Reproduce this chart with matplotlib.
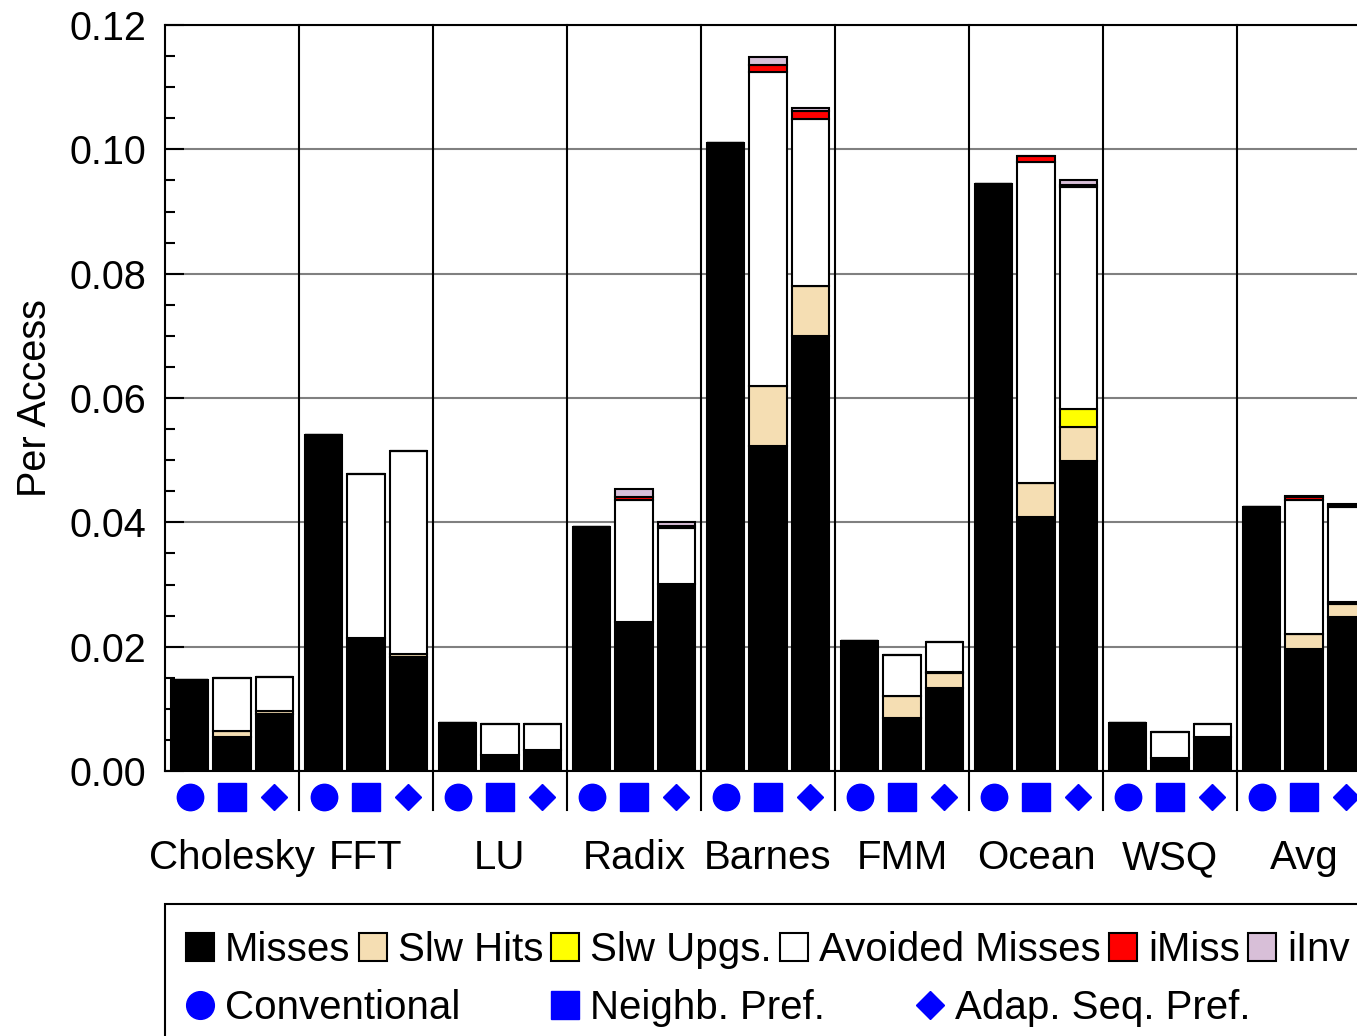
import numpy as np
import matplotlib.pyplot as plt
from matplotlib.patches import Patch, Rectangle
from matplotlib.lines import Line2D
from matplotlib.ticker import MultipleLocator, FormatStrFormatter

plt.rcParams['font.family'] = ['Liberation Sans', 'DejaVu Sans']
plt.rcParams['font.size'] = 28.5

apps = ["Cholesky", "FFT", "LU", "Radix", "Barnes", "FMM", "Ocean", "WSQ", "Avg"]
configs = ["Conventional", "Neighb. Pref.", "Adap. Seq. Pref."]
config_markers = ["o", "s", "D"]
config_msize = [19, 19.5, 13.5]

# one triple per app: (Conventional, Neighb. Pref., Adap. Seq. Pref.)
misses = [(0.0146, 0.0055, 0.0092), (0.0541, 0.0214, 0.0183), (0.0077, 0.0026, 0.0033),
          (0.0393, 0.0240, 0.0301), (0.1010, 0.0523, 0.0700), (0.0209, 0.0086, 0.0133),
          (0.0945, 0.0409, 0.0498), (0.0078, 0.0021, 0.0055), (0.0424, 0.0196, 0.0248)]
slw_hits = [(0, 0.0009, 0.0004), (0, 0, 0.0005), (0, 0, 0),
            (0, 0, 0), (0, 0.0096, 0.0080), (0, 0.0034, 0.0024),
            (0, 0.0054, 0.0055), (0, 0, 0), (0, 0.0024, 0.0021)]
slw_upgs = [(0, 0, 0), (0, 0, 0), (0, 0, 0),
            (0, 0, 0), (0, 0, 0), (0, 0, 0.0003),
            (0, 0, 0.0030), (0, 0, 0), (0, 0, 0.0003)]
avoided = [(0, 0.0086, 0.0056), (0, 0.0264, 0.0327), (0, 0.0050, 0.0043),
           (0, 0.0196, 0.0090), (0, 0.0505, 0.0269), (0, 0.0066, 0.0047),
           (0, 0.0516, 0.0356), (0, 0.0042, 0.0020), (0, 0.0216, 0.0152)]
imiss = [(0, 0, 0), (0, 0, 0), (0, 0, 0),
         (0, 0.0005, 0.0003), (0, 0.0012, 0.0013), (0, 0, 0),
         (0, 0.0011, 0.0003), (0, 0, 0), (0, 0.0004, 0.0004)]
iinv = [(0, 0, 0), (0, 0, 0), (0, 0, 0),
        (0, 0.0013, 0.0007), (0, 0.0012, 0.0004), (0, 0, 0),
        (0, 0, 0.0008), (0, 0, 0), (0, 0.0003, 0.0001)]

series = [("Misses", misses, "black"),
          ("Slw Hits", slw_hits, "#F5DEB3"),
          ("Slw Upgs.", slw_upgs, "#FFFF00"),
          ("Avoided Misses", avoided, "white"),
          ("iMiss", imiss, "#FF0000"),
          ("iInv", iinv, "#D8BFD8")]

W, H = 1357, 1036
fig = plt.figure(figsize=(W / 100, H / 100), dpi=100)
# axes runs past the right edge of the figure
ax = fig.add_axes([165 / W, (H - 771) / H, 1206 / W, 746 / H])

offsets = np.array([0.5 - 0.317, 0.5, 0.5 + 0.317])
x = (np.arange(len(apps))[:, None] + offsets[None, :]).ravel()
bottom = np.zeros(len(x))
for name, vals, color in series:
    h = np.array(vals).ravel()
    ax.bar(x, h, width=0.277, bottom=bottom, color=color, edgecolor="black",
           linewidth=1.5, zorder=3)
    bottom += h

ax.set_xlim(0, len(apps))
ax.set_ylim(0, 0.12)
ax.set_xticks([])
ax.yaxis.set_major_locator(MultipleLocator(0.02))
ax.yaxis.set_minor_locator(MultipleLocator(0.005))
ax.yaxis.set_major_formatter(FormatStrFormatter("%.2f"))
ax.tick_params(axis="y", which="major", direction="in", length=14, width=1.5, pad=13.5)
ax.tick_params(axis="y", which="minor", direction="in", length=7, width=1.5)
ax.yaxis.grid(True, color="#808080", linewidth=1.5)
ax.set_axisbelow(True)
for s in ax.spines.values():
    s.set_linewidth(1.5)

ax.set_ylabel("Per Access")
ax.yaxis.set_label_coords(-0.092, 0.5)

# group separators reaching down past the marker row
xt = ax.get_xaxis_transform()
for i in range(1, len(apps)):
    ax.plot([i, i], [-0.0523, 1], color="black", linewidth=1.5, transform=xt,
            clip_on=False, zorder=2)

# configuration markers under each bar
for j, (m, ms) in enumerate(zip(config_markers, config_msize)):
    ax.plot(np.arange(len(apps)) + offsets[j], [-0.0355] * len(apps), linestyle="none",
            marker=m, markersize=ms, color="#0000FF", transform=xt, clip_on=False)

for i, name in enumerate(apps):
    ax.text(i + 0.5, -0.1314, name, transform=xt, ha="center", va="baseline", fontsize=29)

# legend box and entries
fig.add_artist(Rectangle((165 / W, -0.1), 1.0, (H - 904) / H + 0.1, transform=fig.transFigure,
                         fill=False, edgecolor="black", linewidth=1.5, clip_on=False))
bar_handles = [Patch(facecolor=c, edgecolor="black", linewidth=1.5) for _, _, c in series]
fig.legend(bar_handles, [n for n, _, _ in series], loc="center left",
           bbox_to_anchor=(186 / W, (H - 950) / H), ncol=6, frameon=False, fontsize=29,
           borderpad=0, borderaxespad=0, handlelength=0.7, handleheight=0.7,
           handletextpad=0.27, columnspacing=0.2)
cfg_handles = [Line2D([], [], linestyle="none", marker=m, markersize=ms * 1.05, color="#0000FF")
               for m, ms in zip(config_markers, config_msize)]
fig.legend(cfg_handles, configs, loc="center left",
           bbox_to_anchor=(186 / W, (H - 1008) / H), ncol=3, frameon=False, fontsize=29,
           borderpad=0, borderaxespad=0, handlelength=0.7, handleheight=0.7,
           handletextpad=0.27, columnspacing=2.25)

plt.savefig("out.png", dpi=100)
plt.close()
